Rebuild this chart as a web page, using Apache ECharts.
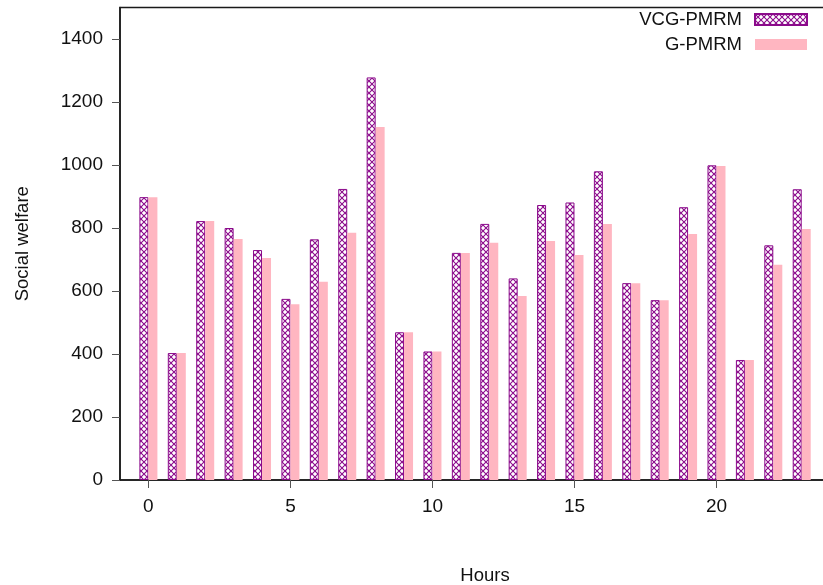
<!DOCTYPE html>
<html>
<head>
<meta charset="utf-8">
<script src="https://cdn.jsdelivr.net/npm/echarts@6/dist/echarts.min.js"></script>
<style>
html,body{margin:0;padding:0;background:#fff;}
#chart{width:823px;height:585px;}
</style>
</head>
<body>
<div id="chart"></div>
<script>
const hours = [0,1,2,3,4,5,6,7,8,9,10,11,12,13,14,15,16,17,18,19,20,21,22,23];
const vcgValues = [898,403,822,800,730,575,764,924,1278,469,408,721,813,640,873,881,980,625,571,866,999,381,745,923];
const gValues   = [898,403,822,765,705,558,629,785,1121,469,408,721,753,584,759,714,813,625,571,781,997,381,683,797];
const xTickValues = [0,5,10,15,20];
const yTickValues = [0,200,400,600,800,1000,1200,1400];
const seriesNames = ['VCG-PMRM','G-PMRM'];

const PURPLE = '#8b0a8b';
const PINK = '#ffb6c1';

function makePattern(){
  const c = document.createElement('canvas');
  c.width = 6; c.height = 6;
  const ctx = c.getContext('2d');
  ctx.fillStyle = '#ffffff';
  ctx.fillRect(0,0,6,6);
  ctx.strokeStyle = PURPLE;
  ctx.lineWidth = 1.1;
  ctx.beginPath();
  ctx.moveTo(0,0); ctx.lineTo(6,6);
  ctx.moveTo(6,0); ctx.lineTo(0,6);
  ctx.stroke();
  return c;
}
const pattern = makePattern();

const font = 'Liberation Sans, Arial, Helvetica, sans-serif';
const chart = echarts.init(document.getElementById('chart'), null, {renderer:'canvas'});
chart.setOption({
  animation: false,
  backgroundColor: '#ffffff',
  textStyle: {fontFamily: font},
  grid: {left: 120, top: 7.5, width: 730, height: 472.5, outerBoundsMode: 'none', containLabel: false,
         show: true, borderColor: '#1a1a1a', borderWidth: 1.5, backgroundColor: 'transparent'},
  legend: {
    orient: 'vertical', right: 15, top: 10, align: 'right', padding: 0,
    icon: 'rect',
    itemWidth: 52, itemHeight: 11, itemGap: 6,
    textStyle: {fontSize: 18.5, color: '#111', fontFamily: font, lineHeight: 18, padding: [0, 8, 0, 0]},
    data: seriesNames
  },
  xAxis: {
    type: 'value', min: -1, max: 24.7,
    name: 'Hours', nameLocation: 'middle', nameGap: 86,
    nameTextStyle: {fontSize: 18.5, color: '#111', fontFamily: font},
    axisLine: {show: true, onZero: false, lineStyle: {color: '#1a1a1a', width: 1.5}},
    axisTick: {show: true, customValues: xTickValues, length: 8, inside: false, lineStyle: {color: '#555', width: 1}},
    axisLabel: {customValues: xTickValues, fontSize: 19, color: '#111', margin: 17, fontFamily: font},
    splitLine: {show: false}
  },
  yAxis: {
    type: 'value', min: 0, max: 1500,
    name: 'Social welfare', nameLocation: 'middle', nameGap: 88, nameRotate: 90,
    nameTextStyle: {fontSize: 18.5, color: '#111', fontFamily: font},
    axisLine: {show: true, onZero: false, lineStyle: {color: '#1a1a1a', width: 1.5}},
    axisTick: {show: true, customValues: yTickValues, length: 8, inside: false, lineStyle: {color: '#555', width: 1}},
    axisLabel: {customValues: yTickValues, fontSize: 19, color: '#111', margin: 17, fontFamily: font,
                formatter: v => String(v)},
    splitLine: {show: false}
  },
  series: [
    {
      name: seriesNames[0], type: 'bar', barWidth: 9, barGap: '0%',
      itemStyle: {color: {image: pattern, repeat: 'repeat'}, borderColor: PURPLE, borderWidth: 1},
      data: hours.map((h,i) => [h, vcgValues[i]])
    },
    {
      name: seriesNames[1], type: 'bar', barWidth: 9, barGap: '0%',
      itemStyle: {color: PINK},
      data: hours.map((h,i) => [h, gValues[i]])
    }
  ]
});
</script>
</body>
</html>
